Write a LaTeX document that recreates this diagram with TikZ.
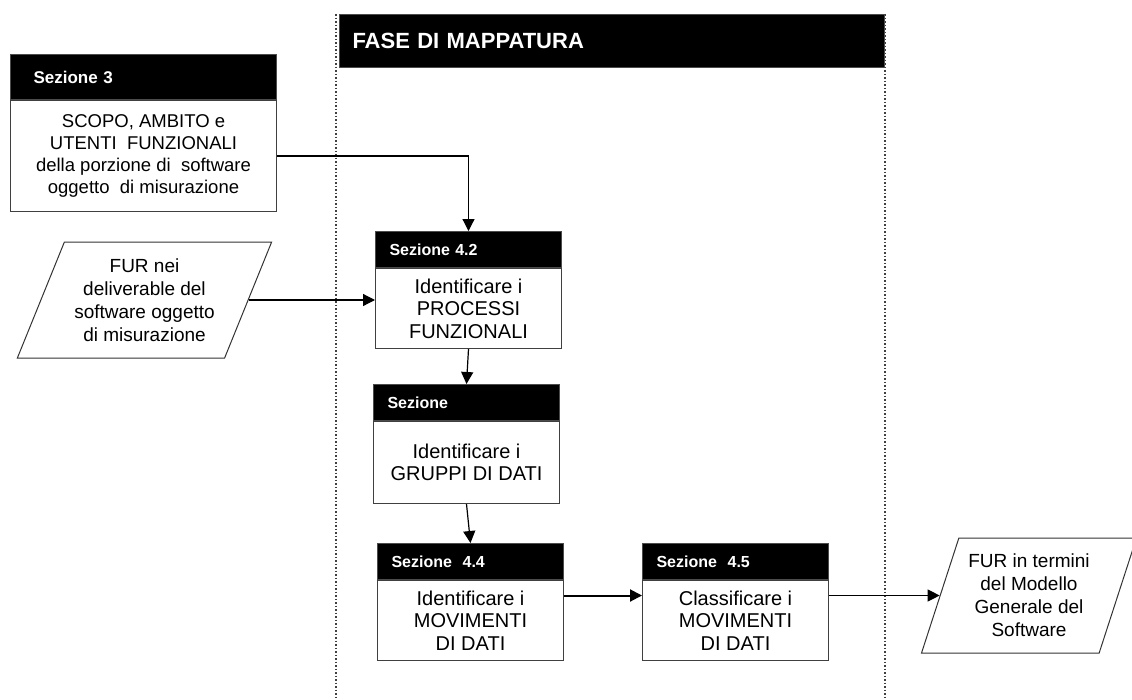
\documentclass[tikz,border=0pt]{standalone}
\usepackage{fontspec}
\setmainfont{Liberation Sans}
\usetikzlibrary{shapes.geometric, arrows.meta, positioning}
\tikzset{
  mp/title/.style={rectangle, fill=black, draw=black!70, text=white,
    minimum width=545pt, minimum height=53pt, text width=519pt,
    inner xsep=13pt, line width=1pt,
    font=\fontsize{22}{25}\selectfont\bfseries, align=left},
  mp/head/.style={rectangle, fill=black, draw=black!70, text=white,
    minimum width=186pt, minimum height=36pt, text width=158pt,
    inner xsep=14pt, line width=1pt,
    font=\fontsize{16}{19}\selectfont\bfseries, align=left},
  mp/body/.style={rectangle, draw=black!75, fill=white, line width=1pt,
    minimum width=186pt, minimum height=80pt, inner sep=2pt,
    font=\fontsize{20}{22.5}\selectfont, align=center},
  mp/io/.style={trapezium, trapezium stretches=true, draw=black!80,
    line width=1pt, inner sep=2pt,
    font=\fontsize{19}{23}\selectfont, align=center},
  mp/arr/.style={-{Triangle[length=12pt,width=12pt]}, line width=1.2pt},
  mp/frame/.style={dotted, line width=1.5pt, draw=black!75}
}
\begin{document}
\begin{tikzpicture}[x=1pt, y=-1pt]
  \useasboundingbox (0,0) rectangle (1132,699);
  % fase di mappatura
  \draw[mp/frame] (336,14) -- (336,699);
  \draw[mp/frame] (885,14) -- (885,699);
  \node[mp/title, anchor=north west] (fase) at (339,14) {FASE DI MAPPATURA};

  \node[mp/head, anchor=north west, minimum width=266pt, text width=220pt,
    inner xsep=23pt, minimum height=45pt, font=\fontsize{17}{20}\selectfont\bfseries]
    (s3h) at (10,54) {Sezione 3};
  \node[mp/body, below=0pt of s3h, minimum width=266pt, minimum height=111pt,
    font=\fontsize{18.5}{21.7}\selectfont] (s3b)
    {SCOPO, AMBITO e\\UTENTI\ \ FUNZIONALI\\della porzione di\ \ software\\oggetto\ \ di misurazione};

  \node[mp/head, anchor=north west] (p42h) at (375,231) {Sezione 4.2};
  \node[mp/body, below=0pt of p42h] (p42b) {Identificare i\\PROCESSI\\FUNZIONALI};
  \node[mp/head, below=35pt of p42b, xshift=-2pt] (p43h) {Sezione};
  \node[mp/body, below=0pt of p43h, minimum height=82pt] (p43b) {Identificare i\\GRUPPI DI DATI};
  \node[mp/head, below=39pt of p43b, xshift=4pt] (p44h) {Sezione\ \ 4.4};
  \node[mp/body, below=0pt of p44h] (p44b) {Identificare i\\MOVIMENTI\\DI DATI};
  \node[mp/head, right=78pt of p44h] (p45h) {Sezione\ \ 4.5};
  \node[mp/body, below=0pt of p45h] (p45b) {Classificare i\\MOVIMENTI\\DI DATI};

  \node[mp/io, trapezium left angle=64, trapezium right angle=116,
    minimum width=255pt, minimum height=116pt] (fin) at (144.5,300)
    {FUR nei\\deliverable del\\software oggetto\\di misurazione};
  \node[mp/io, trapezium left angle=69, trapezium right angle=111,
    minimum width=215pt, minimum height=115pt] (fout) at (1029,595.5)
    {FUR in termini\\del Modello\\Generale del\\Software};

  \draw[mp/arr] (s3b.east) -| (p42h.north);
  \draw[mp/arr] (fin.east) -- (fin.east -| p42b.west);
  \draw[mp/arr] (p42b.south) -- (p43h.north);
  \draw[mp/arr] (p43b.south) -- (p44h.north);
  \draw[mp/arr, line width=2pt] (p44b.east |- fout.west) -- (p45b.west |- fout.west);
  \draw[mp/arr] (p45b.east |- fout.west) -- (fout.west);
\end{tikzpicture}
\end{document}
